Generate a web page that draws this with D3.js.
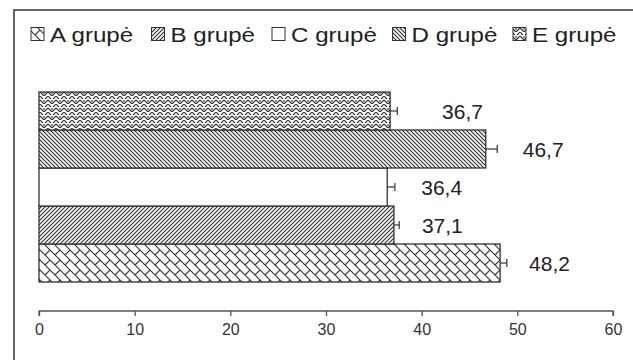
<!DOCTYPE html>
<html><head><meta charset="utf-8">
<script src="https://cdn.jsdelivr.net/npm/d3@7"></script>
<style>html,body{margin:0;padding:0;background:#fff;}svg{display:block;}</style>
</head><body>
<svg id="chart" width="633" height="360"></svg>
<script>
// Data
const groups = ["A grupė", "B grupė", "C grupė", "D grupė", "E grupė"];
const barOrder = ["E grupė", "D grupė", "C grupė", "B grupė", "A grupė"];
const values = [48.2, 37.1, 36.4, 46.7, 36.7];
const errors = [0.7, 0.55, 0.8, 1.2, 0.75];
const valueLabels = ["48,2", "37,1", "36,4", "46,7", "36,7"];
const xTicks = [0, 10, 20, 30, 40, 50, 60];
const patternIds = ["pA", "pB", "pC", "pD", "pE"];

const svg = d3.select("#chart");
const ink = "#333";
const defs = svg.append("defs");

function pat(id, w, h, draw) {
  const p = defs.append("pattern").attr("id", id).attr("patternUnits", "userSpaceOnUse")
    .attr("width", w).attr("height", h);
  p.append("rect").attr("width", w).attr("height", h).attr("fill", "#fff");
  draw(p);
}
// A: diagonal brick
pat("pA", 10, 10, p => {
  p.append("path").attr("d", "M0,0 L10,10 M5,5 L10,0 M-1,9 L1,11 M9,-1 L11,1")
    .attr("stroke", ink).attr("stroke-width", 1.1).attr("fill", "none");
});
// B: dense upward diagonal
pat("pB", 4, 4, p => {
  p.append("path").attr("d", "M-1,5 L5,-1 M-1,1 L1,-1 M3,5 L5,3")
    .attr("stroke", ink).attr("stroke-width", 1.2).attr("fill", "none");
});
// C: blank
pat("pC", 4, 4, p => {});
// D: dense downward diagonal
pat("pD", 4, 4, p => {
  p.append("path").attr("d", "M-1,-1 L5,5 M3,-1 L5,1 M-1,3 L1,5")
    .attr("stroke", ink).attr("stroke-width", 1.2).attr("fill", "none");
});
// E: weave
pat("pE", 8, 8, p => {
  p.append("path").attr("d", "M0,0 L3,3 M5,3 L8,0 M4,4 L4,6 M0,4 L2,6 M8,4 L6,6 M2,6 L4,8 L6,6")
    .attr("stroke", ink).attr("stroke-width", 1.1).attr("fill", "none");
});

// Frame
svg.append("path").attr("d", "M14,360 L14,10 L640,10").attr("fill", "none")
  .attr("stroke", ink).attr("stroke-width", 1.5);

// Scales
const x = d3.scaleLinear().domain([0, 60]).range([39, 613]);
const y = d3.scaleBand().domain(barOrder).range([92, 282]).padding(0);

const rows = groups.map((g, i) => ({g, v: values[i], e: errors[i], lab: valueLabels[i], pid: patternIds[i]}));

// Bars
svg.append("g").selectAll("rect").data(rows).join("rect")
  .attr("x", x(0)).attr("y", d => y(d.g))
  .attr("width", d => x(d.v) - x(0)).attr("height", y.bandwidth())
  .attr("fill", d => `url(#${d.pid})`).attr("stroke", ink).attr("stroke-width", 1.3);

// Error bars
const eb = svg.append("g").attr("stroke", ink).attr("stroke-width", 1.2);
rows.forEach(d => {
  const cy = y(d.g) + y.bandwidth() / 2;
  eb.append("line").attr("x1", x(d.v)).attr("x2", x(d.v + d.e)).attr("y1", cy).attr("y2", cy);
  eb.append("line").attr("x1", x(d.v + d.e)).attr("x2", x(d.v + d.e)).attr("y1", cy - 4).attr("y2", cy + 4);
});

// Value labels (small per-label nudges to match layout)
const labelNudge = {"A grupė": 29, "B grupė": 28, "C grupė": 34, "D grupė": 37, "E grupė": 52};
svg.append("g").selectAll("text").data(rows).join("text")
  .attr("x", d => x(d.v) + labelNudge[d.g])
  .attr("y", d => y(d.g) + y.bandwidth() / 2 + 7.5)
  .attr("font-family", "'Liberation Sans', Arial, sans-serif").attr("font-size", 21)
  .attr("fill", "#222").text(d => d.lab);

// X axis
const ax = svg.append("g").attr("transform", "translate(0,311)")
  .call(d3.axisBottom(x).tickValues(xTicks).tickSize(5).tickPadding(8).tickFormat(d3.format("d")));
ax.select(".domain").attr("stroke", "#555").attr("stroke-width", 1.3).attr("d", `M${x(0)},5V0H${x(60)}V5`);
ax.selectAll(".tick line").attr("stroke", "#555").attr("stroke-width", 1.3);
ax.selectAll(".tick text").attr("font-family", "'Liberation Sans', Arial, sans-serif")
  .attr("font-size", 16).attr("fill", "#333");

// Legend
const legend = svg.append("g");
groups.forEach((g, i) => {
  const lx = 31 + i * 120.5;
  legend.append("rect").attr("x", lx).attr("y", 27.5).attr("width", 13).attr("height", 13)
    .attr("fill", `url(#${patternIds[i]})`).attr("stroke", ink).attr("stroke-width", 1);
  legend.append("text").attr("transform", `translate(${lx + 19},41.5) scale(1.15,1)`)
    .attr("font-family", "'Liberation Sans', Arial, sans-serif").attr("font-size", 21)
    .attr("fill", "#222").text(g);
});
</script>
</body></html>
